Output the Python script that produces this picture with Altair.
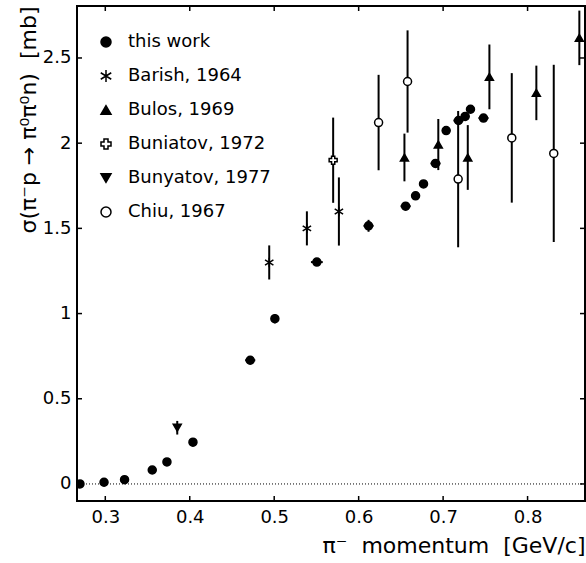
import altair as alt
import pandas as pd

# ---- data ----
sources = ["this work", "Barish, 1964", "Bulos, 1969", "Buniatov, 1972", "Bunyatov, 1977", "Chiu, 1967"]

tw_p = [0.270, 0.2985, 0.3228, 0.3556, 0.373, 0.4038, 0.4716, 0.5008, 0.5505, 0.6117,
        0.6556, 0.6674, 0.6768, 0.691, 0.7036, 0.7182, 0.7261, 0.7324, 0.7478]
tw_s = [0.000, 0.010, 0.025, 0.082, 0.129, 0.245, 0.726, 0.970, 1.302, 1.515,
        1.630, 1.691, 1.761, 1.881, 2.074, 2.133, 2.157, 2.199, 2.147]
tw_ds = [0.0, 0.0, 0.0, 0.0, 0.0, 0.0, 0.01, 0.027, 0.01, 0.035,
         0.01, 0.01, 0.01, 0.01, 0.01, 0.01, 0.01, 0.01, 0.01]
tw_dp = [0.0, 0.0, 0.0, 0.0, 0.0, 0.0, 0.006, 0.0, 0.007, 0.006,
         0.006, 0.005, 0.005, 0.006, 0.005, 0.006, 0.005, 0.005, 0.006]

barish_p = [0.4941, 0.5387, 0.5766]
barish_s = [1.300, 1.500, 1.599]
barish_ds = [0.10, 0.10, 0.20]

bulos_p = [0.6542, 0.6943, 0.7292, 0.7548, 0.8104, 0.8613]
bulos_s = [1.916, 1.992, 1.916, 2.389, 2.295, 2.618]
bulos_ds = [0.14, 0.15, 0.19, 0.19, 0.16, 0.16]

buniatov_p = [0.5698]
buniatov_s = [1.900]
buniatov_ds = [0.25]

bunyatov_p = [0.3852]
bunyatov_s = [0.330]
bunyatov_ds = [0.04]

chiu_p = [0.6236, 0.6579, 0.7178, 0.7813, 0.831]
chiu_s = [2.121, 2.362, 1.789, 2.031, 1.940]
chiu_ds = [0.28, 0.30, 0.40, 0.38, 0.52]

x_ticks = [0.3, 0.4, 0.5, 0.6, 0.7, 0.8]
y_ticks = [0, 0.5, 1, 1.5, 2, 2.5]

# ---- build table ----
rows = []
def add(name, ps, ss, dss, dps=None):
    for i, (p, s, ds) in enumerate(zip(ps, ss, dss)):
        dp = dps[i] if dps else 0.0
        rows.append(dict(source=name, p=p, sigma=s, lo=s - ds, hi=s + ds,
                         plo=p - dp, phi=p + dp, hasdp=dp > 0, hasds=ds > 0))

add("this work", tw_p, tw_s, tw_ds, tw_dp)
add("Barish, 1964", barish_p, barish_s, barish_ds)
add("Bulos, 1969", bulos_p, bulos_s, bulos_ds)
add("Buniatov, 1972", buniatov_p, buniatov_s, buniatov_ds)
add("Bunyatov, 1977", bunyatov_p, bunyatov_s, bunyatov_ds)
add("Chiu, 1967", chiu_p, chiu_s, chiu_ds)
df = pd.DataFrame(rows)

W, H = 508, 495
FONT = "DejaVu Sans"
NB = "\u00a0"

xs = alt.Scale(domain=[0.2665, 0.868], nice=False, zero=False)
ys = alt.Scale(domain=[-0.1, 2.805], nice=False, zero=False)

xaxis = alt.Axis(values=x_ticks, format=".1f", ticks=False, domain=False, grid=False,
                 labelFontSize=18, labelFont=FONT, labelPadding=7, labelColor="black",
                 title="π⁻" + NB + NB + "momentum" + NB + NB + "[GeV/c]", titleAnchor="end",
                 titleFontSize=22, titleFont=FONT, titleFontWeight="normal",
                 titlePadding=9, titleColor="black")
yaxis = alt.Axis(values=y_ticks, format="~g", ticks=False, domain=False, grid=False,
                 labelFontSize=18, labelFont=FONT, labelPadding=6, labelColor="black",
                 title="σ(π⁻p" + NB + "→" + NB + "π⁰π⁰n)" + NB + NB + "[mb]", titleAnchor="end",
                 titleFontSize=22, titleFont=FONT, titleFontWeight="normal",
                 titlePadding=2, titleColor="black")

def X(field):
    return alt.X(field, type="quantitative", scale=xs, axis=xaxis)

def Y(field):
    return alt.Y(field, type="quantitative", scale=ys, axis=yaxis)

base = alt.Chart(df)

zero_line = alt.Chart(pd.DataFrame({"z": [0.0]})).mark_rule(
    color="black", strokeWidth=1, strokeDash=[1, 2]
).encode(y=Y("z"))

vbars = base.transform_filter("datum.hasds").mark_rule(
    color="black", strokeWidth=2, clip=True
).encode(x=X("p"), y=Y("lo"), y2="hi")

hbars = base.transform_filter("datum.hasdp").mark_rule(
    color="black", strokeWidth=2, clip=True
).encode(x=X("plo"), x2="phi", y=Y("sigma"))

asterisk = "M0,-1.2L0,1.2M-1.05,-0.65L1.05,0.65M-1.05,0.65L1.05,-0.65"
shapes = ["circle", asterisk, "triangle-up", "cross", "triangle-down", "circle"]
fills = ["black", "black", "black", "white", "black", "white"]
strokes = ["black"] * 6

legend = alt.Legend(title=None, orient="none", legendX=20, legendY=27,
                    labelFontSize=18, labelFont=FONT, labelColor="black",
                    symbolSize=100, symbolStrokeWidth=1.5,
                    rowPadding=16, labelOffset=13, padding=0)

points = base.mark_point(strokeWidth=1.5, size=64, opacity=1, clip=True).encode(
    x=X("p"),
    y=Y("sigma"),
    shape=alt.Shape("source:N", scale=alt.Scale(domain=sources, range=shapes), legend=legend),
    fill=alt.Fill("source:N", scale=alt.Scale(domain=sources, range=fills), legend=legend),
    stroke=alt.Stroke("source:N", scale=alt.Scale(domain=sources, range=strokes), legend=legend),
)

xt = pd.DataFrame({"t": x_ticks})
yt = pd.DataFrame({"t": y_ticks})
TL = 5
tick_bottom = alt.Chart(xt).mark_rule(color="black", strokeWidth=1.5).encode(
    x=X("t"), y=alt.value(H), y2=alt.value(H - TL))
tick_top = alt.Chart(xt).mark_rule(color="black", strokeWidth=1.5).encode(
    x=X("t"), y=alt.value(0), y2=alt.value(TL))
tick_left = alt.Chart(yt).mark_rule(color="black", strokeWidth=1.5).encode(
    y=Y("t"), x=alt.value(0), x2=alt.value(TL))
tick_right = alt.Chart(yt).mark_rule(color="black", strokeWidth=1.5).encode(
    y=Y("t"), x=alt.value(W), x2=alt.value(W - TL))

chart = alt.layer(
    zero_line, vbars, hbars, points, tick_bottom, tick_top, tick_left, tick_right
).properties(
    width=W, height=H,
    autosize=alt.AutoSizeParams(type="none"),
    padding={"left": 77, "top": 6, "right": 1, "bottom": 62},
    background="white",
).configure_view(stroke="black", strokeWidth=2)

chart.save("out.html", embed_options={"renderer": "svg", "actions": False})
